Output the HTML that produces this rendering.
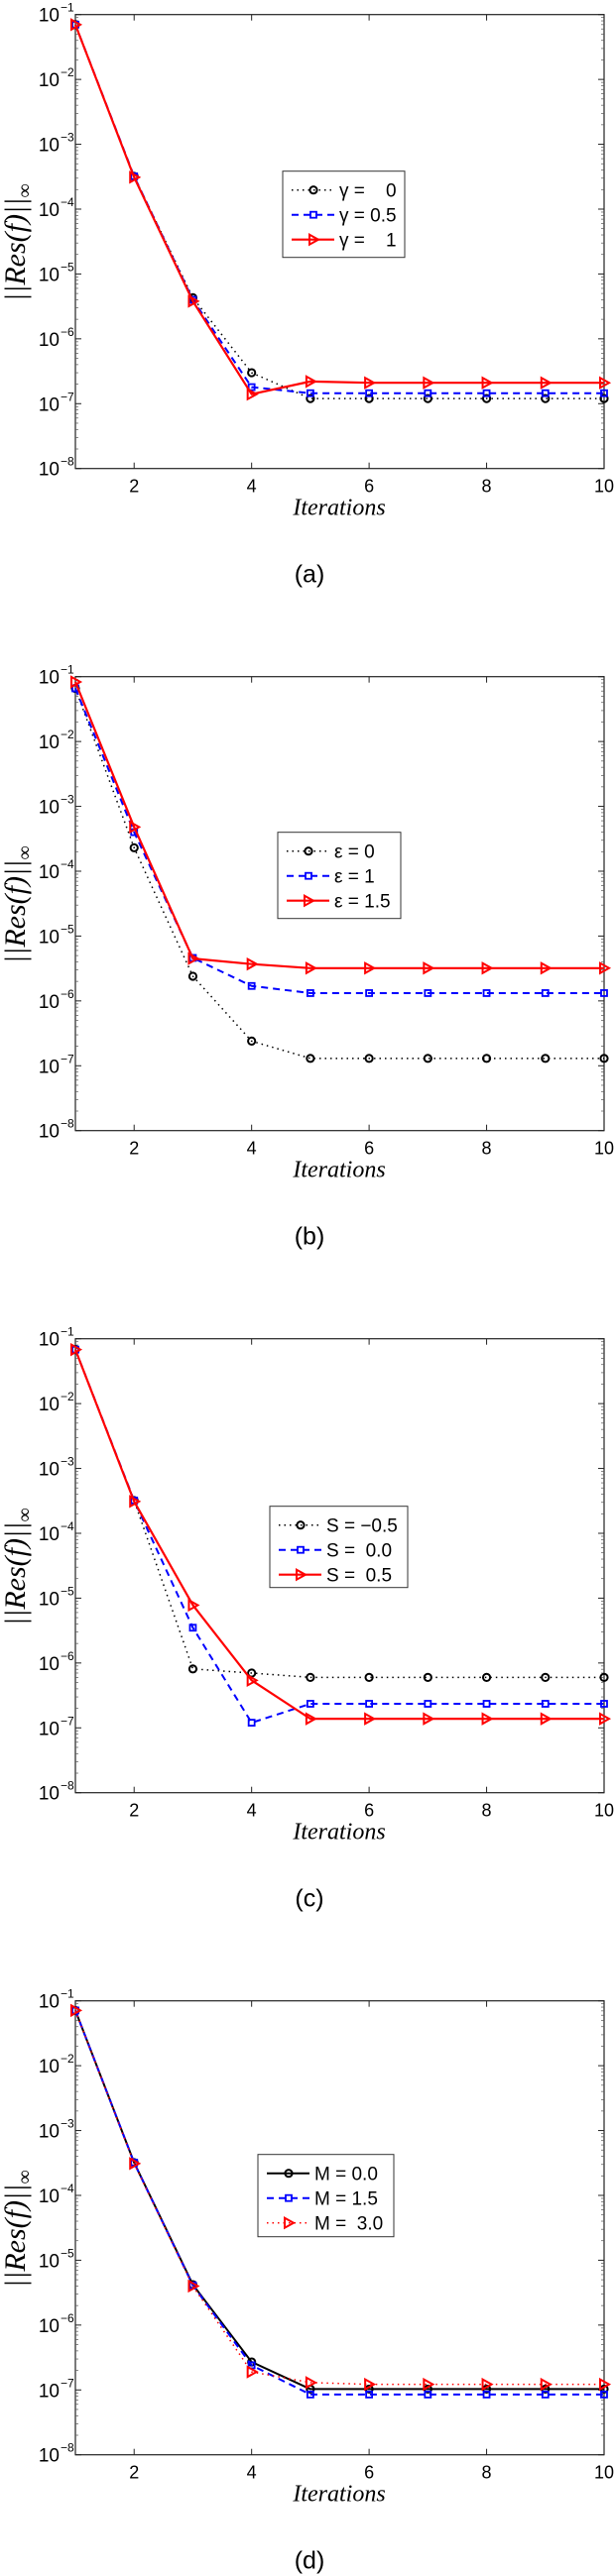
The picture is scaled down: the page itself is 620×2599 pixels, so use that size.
<!DOCTYPE html>
<html><head><meta charset="utf-8">
<style>
html,body{margin:0;padding:0;background:#fff;}
svg{display:block;}
text{font-family:"Liberation Sans",sans-serif;fill:#000;}
.serif{font-family:"Liberation Serif",serif;font-style:italic;}
</style></head>
<body>
<svg id="fig" width="620" height="2599" viewBox="0 0 620 2599" xmlns="http://www.w3.org/2000/svg"></svg>
<script>
// x categories (iterations)
const iterations = [1,2,3,4,5,6,7,8,9,10];
const xTicks = [2,4,6,8,10];
const yTickExps = [-1,-2,-3,-4,-5,-6,-7,-8];
const captions = ["(a)","(b)","(c)","(d)"];

// panel (a): gamma
const aGamma0  = [0.07,3.2e-4,4.3e-6,3.0e-7,1.2e-7,1.2e-7,1.2e-7,1.2e-7,1.2e-7,1.2e-7];
const aGamma05 = [0.07,3.2e-4,4.0e-6,1.8e-7,1.45e-7,1.45e-7,1.45e-7,1.45e-7,1.45e-7,1.45e-7];
const aGamma1  = [0.07,3.1e-4,3.8e-6,1.4e-7,2.2e-7,2.1e-7,2.1e-7,2.1e-7,2.1e-7,2.1e-7];
const aLabels = ["\u03b3 =    0","\u03b3 = 0.5","\u03b3 =    1"];

// panel (b): epsilon
const bEps0  = [0.066,2.3e-4,2.4e-6,2.4e-7,1.3e-7,1.3e-7,1.3e-7,1.3e-7,1.3e-7,1.3e-7];
const bEps1  = [0.066,4.0e-4,4.6e-6,1.7e-6,1.32e-6,1.32e-6,1.32e-6,1.32e-6,1.32e-6,1.32e-6];
const bEps15 = [0.083,4.8e-4,4.5e-6,3.7e-6,3.2e-6,3.2e-6,3.2e-6,3.2e-6,3.2e-6,3.2e-6];
const bLabels = ["\u03b5 = 0","\u03b5 = 1","\u03b5 = 1.5"];

// panel (c): S
const cSm05 = [0.068,3.2e-4,8.1e-7,7.0e-7,6.0e-7,6.0e-7,6.0e-7,6.0e-7,6.0e-7,6.0e-7];
const cS0   = [0.068,3.2e-4,3.5e-6,1.2e-7,2.35e-7,2.35e-7,2.35e-7,2.35e-7,2.35e-7,2.35e-7];
const cS05  = [0.068,3.1e-4,7.8e-6,5.4e-7,1.38e-7,1.38e-7,1.38e-7,1.38e-7,1.38e-7,1.38e-7];
const cLabels = ["S = \u22120.5","S =  0.0","S =  0.5"];

// panel (d): M
const dM0  = [0.071,3.2e-4,4.2e-6,2.7e-7,1.03e-7,1.03e-7,1.03e-7,1.03e-7,1.03e-7,1.03e-7];
const dM15 = [0.071,3.2e-4,4.1e-6,2.4e-7,8.5e-8,8.5e-8,8.5e-8,8.5e-8,8.5e-8,8.5e-8];
const dM3  = [0.071,3.1e-4,4.0e-6,1.9e-7,1.3e-7,1.22e-7,1.22e-7,1.22e-7,1.22e-7,1.22e-7];
const dLabels = ["M = 0.0","M = 1.5","M =  3.0"];

const NS="http://www.w3.org/2000/svg";
const svg=document.getElementById('fig');
function mk(tag,attrs,parent){const e=document.createElementNS(NS,tag);for(const k in attrs)e.setAttribute(k,attrs[k]);(parent||svg).appendChild(e);return e;}

const L=76,R=609,H=458,PANEL=668,T0=14.7;
const styles={
  blackDot:{color:'#000',dash:'1.5,4',w:1.5,marker:'circle'},
  blueDash:{color:'#0000ff',dash:'7,5',w:2,marker:'square'},
  redSolid:{color:'#ff0000',dash:'',w:2.2,marker:'tri'},
  blackSolid:{color:'#000',dash:'',w:2,marker:'circle'},
  redDot:{color:'#ff0000',dash:'1.5,4',w:1.5,marker:'tri'}
};
const panels=[
  {series:[aGamma0,aGamma05,aGamma1],st:['blackDot','blueDash','redSolid'],labels:aLabels,leg:[285,158,123,87]},
  {series:[bEps0,bEps1,bEps15],st:['blackDot','blueDash','redSolid'],labels:bLabels,leg:[280,157,124,87]},
  {series:[cSm05,cS0,cS05],st:['blackDot','blueDash','redSolid'],labels:cLabels,leg:[272,169,139,82]},
  {series:[dM0,dM15,dM3],st:['blackSolid','blueDash','redDot'],labels:dLabels,leg:[260,155,137,83]}
];

function marker(g,kind,cx,cy,color){
  let m;
  if(kind==='circle') m=mk('circle',{cx:cx,cy:cy,r:3.6,fill:'none',stroke:color,'stroke-width':2},g);
  else if(kind==='square') m=mk('rect',{x:cx-3,y:cy-3,width:6,height:6,fill:'none',stroke:color,'stroke-width':1.8},g);
  else m=mk('polygon',{points:`${cx-4},${cy-5} ${cx+5},${cy} ${cx-4},${cy+5}`,fill:'none',stroke:color,'stroke-width':2},g);
  
  
}

panels.forEach((p,pi)=>{
  const top=T0+pi*PANEL,bot=top+H;
  const xs=v=>L+(v-1)/9*(R-L);
  const ys=v=>top+(-1-Math.log10(v))/7*H;
  const g=mk('g',{});
  
  
  const frame=mk('rect',{x:L,y:top,width:R-L,height:H,fill:'#fff',stroke:'#222','stroke-width':1.2},g);
  
  
  yTickExps.forEach(e=>{
    const y=ys(Math.pow(10,e));
    mk('line',{x1:L,x2:L+6,y1:y,y2:y,stroke:'#222'},g);
    mk('line',{x1:R,x2:R-6,y1:y,y2:y,stroke:'#222'},g);
    if(e>-8){for(let k=2;k<10;k++){const yy=ys(k*Math.pow(10,e-1));
      mk('line',{x1:L,x2:L+3,y1:yy,y2:yy,stroke:'#555','stroke-width':0.7},g);
      mk('line',{x1:R,x2:R-3,y1:yy,y2:yy,stroke:'#555','stroke-width':0.7},g);}}
    const t=mk('text',{x:L-16,y:y+7,'text-anchor':'end','font-size':19},g);
    
    
    t.textContent='10';
    const s=mk('text',{x:L-15,y:y-3,'font-size':12},g);
    
    
    s.textContent='\u2212'+(-e);
  });
  xTicks.forEach(v=>{
    const x=xs(v);
    mk('line',{x1:x,x2:x,y1:bot,y2:bot-6,stroke:'#222'},g);
    mk('line',{x1:x,x2:x,y1:top,y2:top+6,stroke:'#222'},g);
    const t=mk('text',{x:x,y:bot+24,'text-anchor':'middle','font-size':18},g);
    
    
    t.textContent=String(v);
  });
  const xl=mk('text',{x:342,y:bot+47,'text-anchor':'middle','font-size':24,class:'serif'},g);
  
  
  xl.textContent='Iterations';
  const yl=mk('text',{x:0,y:0,'text-anchor':'middle','font-size':30,class:'serif',transform:`translate(25,${top+230}) rotate(-90)`},g);
  
  
  const t1=mk('tspan',{},yl); t1.textContent='||Res(f)||';
  const t2=mk('tspan',{dy:6,'font-size':20,style:'font-style:normal'},yl); t2.textContent='\u221e';
  const cap=mk('text',{x:312,y:top+573,'text-anchor':'middle','font-size':25},g);
  
  
  cap.textContent=captions[pi];
  p.series.forEach((vals,si)=>{
    const st=styles[p.st[si]];
    const sg=mk('g',{},g);
    
    
    const pts=iterations.map((it,i)=>xs(it)+','+ys(vals[i])).join(' ');
    const pl=mk('polyline',{points:pts,fill:'none',stroke:st.color,'stroke-width':st.w,'stroke-dasharray':st.dash,'stroke-linejoin':'round'},sg);
    
    
    iterations.forEach((it,i)=>marker(sg,st.marker,xs(it),ys(vals[i]),st.color));
  });
  const [lx,ly,lw,lh]=p.leg;
  const lg=mk('g',{},g);
  
  
  mk('rect',{x:lx,y:top+ly,width:lw,height:lh,fill:'#fff',stroke:'#333','stroke-width':1},lg);
  p.labels.forEach((lab,si)=>{
    const st=styles[p.st[si]];
    const ry=top+ly+19+si*25;
    mk('line',{x1:lx+9,x2:lx+52,y1:ry,y2:ry,stroke:st.color,'stroke-width':st.w,'stroke-dasharray':st.dash},lg);
    marker(lg,st.marker,lx+31,ry,st.color);
    const t=mk('text',{x:lx+57,y:ry+7,'font-size':19},lg);
    
    
    t.setAttribute('style','white-space:pre');
    t.textContent=lab;
  });
});
</script>
</body></html>
